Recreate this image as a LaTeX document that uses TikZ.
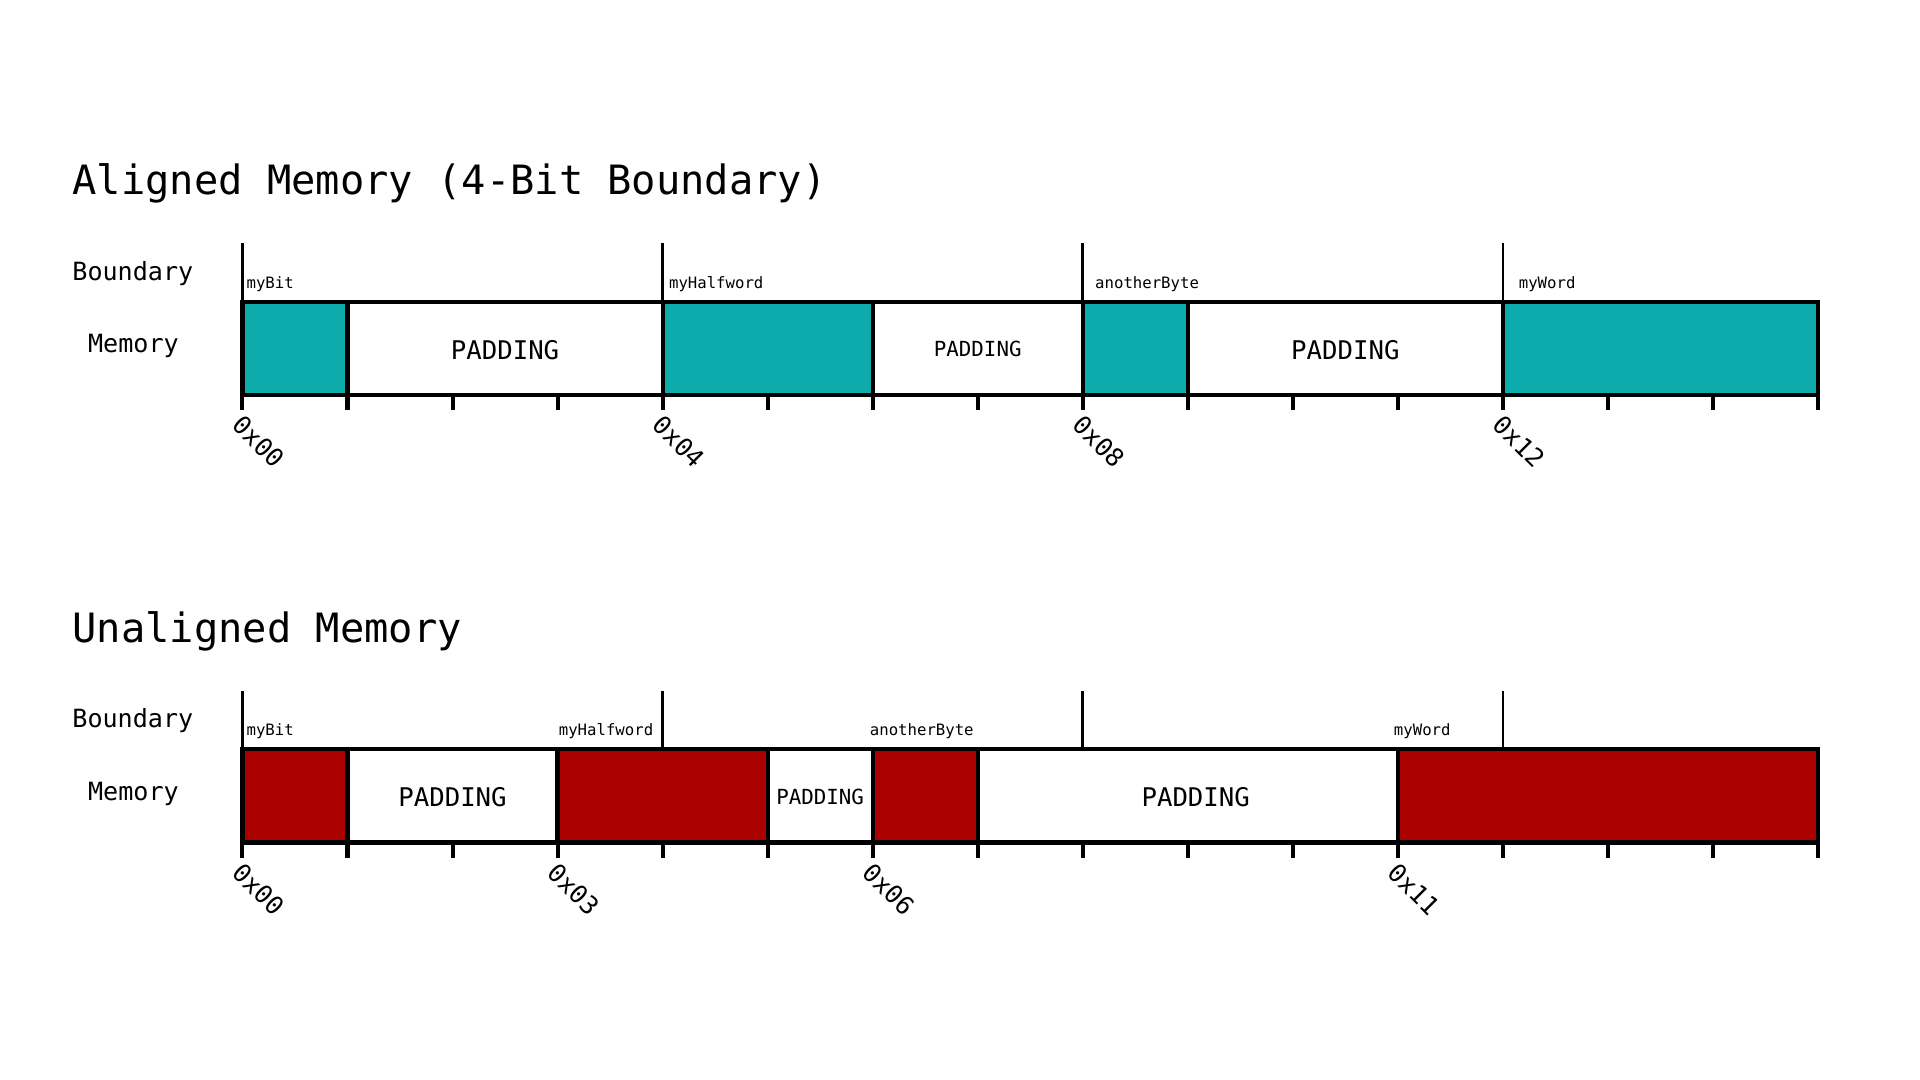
\documentclass[tikz,border=0pt]{standalone}
\usepackage{fontspec}
\setmainfont{DejaVu Sans Mono}
\definecolor{tealfill}{HTML}{0DABAB}
\definecolor{redfill}{HTML}{AA0000}
\def\U{85.78}
\def\X{198}
\begin{document}
\begin{tikzpicture}[x=1pt,y=-1pt,
  title/.style={anchor=base west,inner sep=0pt,font=\fontsize{33}{40}\selectfont},
  rowlab/.style={anchor=base,inner sep=0pt,font=\fontsize{20.5}{24}\selectfont},
  varlab/.style={anchor=base west,inner sep=0pt,font=\fontsize{12.8}{15}\selectfont},
  padbig/.style={anchor=base,inner sep=0pt,font=\fontsize{21}{25}\selectfont},
  padsmall/.style={anchor=base,inner sep=0pt,font=\fontsize{17}{20}\selectfont},
  addr/.style={anchor=north west,inner sep=0pt,rotate=-45,font=\fontsize{20.5}{24}\selectfont},
  boxline/.style={line width=3.4pt},
  bndline/.style={line width=2.2pt},
  tickline/.style={line width=3.3pt},
]
\useasboundingbox[fill=white] (0,0) rectangle (1568,882);

% ---------------- Aligned ----------------
\node[title] (title1) at (59,159) {Aligned Memory (4-Bit Boundary)};
\node[rowlab] (bnd1) at (108.5,228.7) {Boundary};
\node[rowlab] (mem1) at (109,288) {Memory};

\fill[tealfill] (\X,246.4) rectangle ({\X+1*\U},322.6);
\fill[tealfill] ({\X+4*\U},246.4) rectangle ({\X+6*\U},322.6);
\fill[tealfill] ({\X+8*\U},246.4) rectangle ({\X+9*\U},322.6);
\fill[tealfill] ({\X+12*\U},246.4) rectangle ({\X+15*\U},322.6);
\foreach \i in {1,4,6,8,9,12} \draw[boxline] ({\X+\i*\U},246.4) -- ({\X+\i*\U},322.6);
\draw[boxline] (\X,246.4) rectangle ({\X+15*\U},322.6);
\foreach \i in {0,4,8,12} \draw[bndline] ({\X+\i*\U},198.5) -- ({\X+\i*\U},246.4);
\foreach \i in {0,...,15} \draw[tickline] ({\X+\i*\U},322.6) -- ({\X+\i*\U},334.8);

\node[varlab] (v1a) at (201.2,235.5) {myBit};
\node[varlab] (v1b) at (546.2,235.5) {myHalfword};
\node[varlab] (v1c) at (894.2,235.5) {anotherByte};
\node[varlab] (v1d) at (1240.2,235.5) {myWord};

\node[padbig] (p1a) at ({\X+2.5*\U},293.5) {PADDING};
\node[padsmall] (p1b) at ({\X+7*\U},291.5) {PADDING};
\node[padbig] (p1c) at ({\X+10.5*\U},293.5) {PADDING};

\node[addr] (a1a) at ({\X+1},337.5) {0x00};
\node[addr] (a1b) at ({\X+4*\U+1},337.5) {0x04};
\node[addr] (a1c) at ({\X+8*\U+1},337.5) {0x08};
\node[addr] (a1d) at ({\X+12*\U+1},337.5) {0x12};

% ---------------- Unaligned ----------------
\begin{scope}[shift={(0,365.5)}]
\node[title] (title2) at (59,159) {Unaligned Memory};
\node[rowlab] (bnd2) at (108.5,228.7) {Boundary};
\node[rowlab] (mem2) at (109,288) {Memory};

\fill[redfill] (\X,246.4) rectangle ({\X+1*\U},322.6);
\fill[redfill] ({\X+3*\U},246.4) rectangle ({\X+5*\U},322.6);
\fill[redfill] ({\X+6*\U},246.4) rectangle ({\X+7*\U},322.6);
\fill[redfill] ({\X+11*\U},246.4) rectangle ({\X+15*\U},322.6);
\foreach \i in {1,3,5,6,7,11} \draw[boxline] ({\X+\i*\U},246.4) -- ({\X+\i*\U},322.6);
\draw[boxline] (\X,246.4) rectangle ({\X+15*\U},322.6);
\foreach \i in {0,4,8,12} \draw[bndline] ({\X+\i*\U},198.5) -- ({\X+\i*\U},246.4);
\foreach \i in {0,...,15} \draw[tickline] ({\X+\i*\U},322.6) -- ({\X+\i*\U},334.8);

\node[varlab] (v2a) at (201.2,235.5) {myBit};
\node[varlab] (v2b) at (456.2,235.5) {myHalfword};
\node[varlab] (v2c) at (710.2,235.5) {anotherByte};
\node[varlab] (v2d) at (1138.2,235.5) {myWord};

\node[padbig] (p2a) at ({\X+2*\U},293.5) {PADDING};
\node[padsmall] (p2b) at ({\X+5.5*\U},291.5) {PADDING};
\node[padbig] (p2c) at (976.5,293.5) {PADDING};

\node[addr] (a2a) at ({\X+1},337.5) {0x00};
\node[addr] (a2b) at ({\X+3*\U+1},337.5) {0x03};
\node[addr] (a2c) at ({\X+6*\U+1},337.5) {0x06};
\node[addr] (a2d) at ({\X+11*\U+1},337.5) {0x11};
\end{scope}
\end{tikzpicture}
\end{document}
